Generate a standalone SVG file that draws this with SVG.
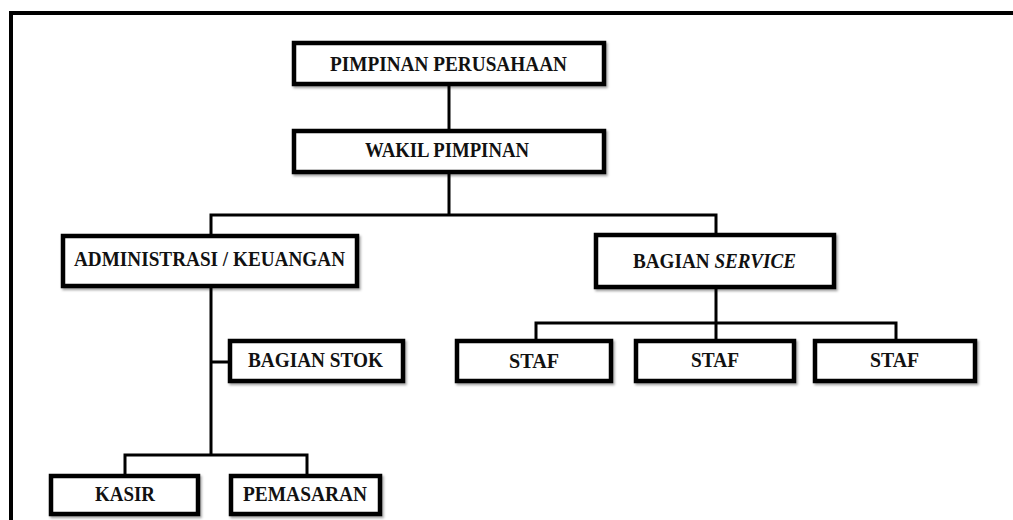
<svg xmlns="http://www.w3.org/2000/svg" width="1013" height="520" viewBox="0 0 1013 520">
  <style>
    .box { fill: #ffffff; stroke: #000000; stroke-width: 4.5; filter: url(#shadow); }
    .lbl { font-family: "Liberation Serif", "Times New Roman", serif; font-weight: bold; font-size: 21px; fill: #111111; }
    .conn { fill: none; stroke: #000000; stroke-width: 3; stroke-linejoin: miter; stroke-linecap: square; }
  </style>
  <defs>
    <filter id="shadow" x="-10%" y="-20%" width="120%" height="150%">
      <feDropShadow dx="1.5" dy="2" stdDeviation="1.2" flood-color="#000000" flood-opacity="0.35"/>
    </filter>
  </defs>

  <rect width="1013" height="520" fill="#ffffff"/>
  <!-- outer frame -->
  <rect x="11" y="13" width="1010" height="520" fill="none" stroke="#000000" stroke-width="4"/>

  <!-- connectors -->
  <g id="connectors" class="conn">
    <path d="M449 86 V129"/>
    <path d="M449 174 V215 M211 234 V215 H716 V233"/>
    <path d="M211 288 V455 M211 362 H228 M125 474 V455 H307 V474"/>
    <path d="M716 289 V339 M536 339 V323 H896 V339"/>
  </g>

  <g id="pimpinan">
    <rect class="box" x="294" y="43" width="310" height="41"/>
    <text class="lbl" x="330" y="71" textLength="237" lengthAdjust="spacingAndGlyphs">PIMPINAN PERUSAHAAN</text>
  </g>
  <g id="wakil">
    <rect class="box" x="294" y="131" width="310" height="41"/>
    <text class="lbl" x="365" y="157" textLength="164" lengthAdjust="spacingAndGlyphs">WAKIL PIMPINAN</text>
  </g>
  <g id="administrasi">
    <rect class="box" x="63" y="236" width="294" height="50"/>
    <text class="lbl" x="74" y="266" textLength="271" lengthAdjust="spacingAndGlyphs">ADMINISTRASI / KEUANGAN</text>
  </g>
  <g id="service">
    <rect class="box" x="596" y="235" width="238" height="52"/>
    <text class="lbl" x="633" y="268" textLength="163" lengthAdjust="spacingAndGlyphs">BAGIAN <tspan font-style="italic">SERVICE</tspan></text>
  </g>
  <g id="stok">
    <rect class="box" x="230" y="341" width="173" height="40"/>
    <text class="lbl" x="248" y="367" textLength="135" lengthAdjust="spacingAndGlyphs">BAGIAN STOK</text>
  </g>
  <g id="staf1">
    <rect class="box" x="457" y="341" width="154" height="40"/>
    <text class="lbl" x="509" y="368" textLength="50" lengthAdjust="spacingAndGlyphs">STAF</text>
  </g>
  <g id="staf2">
    <rect class="box" x="636" y="341" width="158" height="40"/>
    <text class="lbl" x="691" y="367" textLength="48" lengthAdjust="spacingAndGlyphs">STAF</text>
  </g>
  <g id="staf3">
    <rect class="box" x="815" y="341" width="160" height="40"/>
    <text class="lbl" x="870" y="367" textLength="49" lengthAdjust="spacingAndGlyphs">STAF</text>
  </g>
  <g id="kasir">
    <rect class="box" x="51" y="476" width="147" height="38"/>
    <text class="lbl" x="95" y="501" textLength="60" lengthAdjust="spacingAndGlyphs">KASIR</text>
  </g>
  <g id="pemasaran">
    <rect class="box" x="231" y="476" width="149" height="38"/>
    <text class="lbl" x="243" y="501" textLength="124" lengthAdjust="spacingAndGlyphs">PEMASARAN</text>
  </g>
</svg>
